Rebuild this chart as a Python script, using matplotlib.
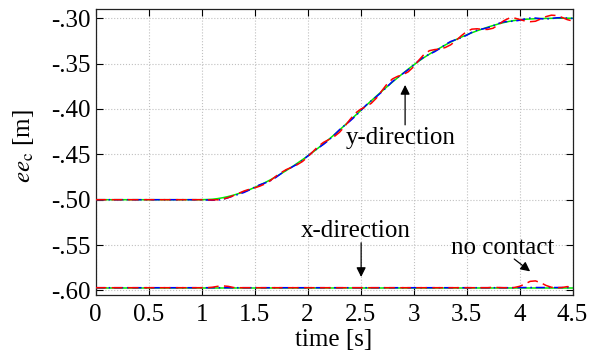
import matplotlib
matplotlib.use("Agg")
import matplotlib.pyplot as plt
import numpy as np

plt.rcParams['font.family'] = ['Liberation Serif', 'DejaVu Serif']
plt.rcParams['mathtext.fontset'] = 'stix'

# time grid, 0.05 s steps
t = np.round(np.arange(0, 4.5001, 0.05), 2)

# y-direction: reference (green), blue, red
y_ref = [-0.5000] * 21 + [
    -0.4998, -0.4995, -0.4988, -0.4978, -0.4965, -0.4950, -0.4932, -0.4912, -0.4890, -0.4865,
    -0.4838, -0.4810, -0.4780, -0.4747, -0.4713, -0.4677, -0.4640, -0.4600, -0.4560, -0.4518,
    -0.4475, -0.4430, -0.4383, -0.4335, -0.4285, -0.4233, -0.4180, -0.4126, -0.4072, -0.4018,
    -0.3964, -0.3910, -0.3857, -0.3805, -0.3754, -0.3704, -0.3655, -0.3607, -0.3560, -0.3515,
    -0.3472, -0.3432, -0.3395, -0.3360, -0.3327, -0.3294, -0.3263, -0.3235, -0.3208, -0.3183,
    -0.3160, -0.3138, -0.3118, -0.3098, -0.3080, -0.3063, -0.3048, -0.3035, -0.3025, -0.3018,
    -0.3012, -0.3008, -0.3005, -0.3003, -0.3002, -0.3001, -0.3000, -0.3000, -0.3000, -0.3000]

y_blue = [-0.5000] * 21 + [
    -0.5003, -0.5006, -0.5005, -0.4996, -0.4978, -0.4958, -0.4940, -0.4920, -0.4893, -0.4862,
    -0.4835, -0.4815, -0.4790, -0.4755, -0.4712, -0.4672, -0.4642, -0.4610, -0.4568, -0.4520,
    -0.4472, -0.4430, -0.4390, -0.4343, -0.4288, -0.4230, -0.4180, -0.4133, -0.4080, -0.4020,
    -0.3960, -0.3910, -0.3864, -0.3812, -0.3755, -0.3698, -0.3650, -0.3610, -0.3567, -0.3518,
    -0.3467, -0.3425, -0.3396, -0.3368, -0.3332, -0.3290, -0.3256, -0.3235, -0.3215, -0.3188,
    -0.3155, -0.3130, -0.3118, -0.3105, -0.3083, -0.3058, -0.3040, -0.3035, -0.3032, -0.3022,
    -0.3008, -0.2998, -0.2998, -0.3005, -0.3008, -0.3003, -0.2995, -0.2993, -0.2998, -0.3002]

y_red = [-0.5000] * 21 + [
    -0.5001, -0.5003, -0.5000, -0.4993, -0.4977, -0.4955, -0.4929, -0.4904, -0.4885, -0.4870,
    -0.4850, -0.4825, -0.4788, -0.4742, -0.4701, -0.4667, -0.4642, -0.4615, -0.4580, -0.4530,
    -0.4470, -0.4412, -0.4368, -0.4337, -0.4305, -0.4258, -0.4192, -0.4116, -0.4047, -0.4003,
    -0.3974, -0.3938, -0.3879, -0.3800, -0.3724, -0.3669, -0.3640, -0.3622, -0.3590, -0.3535,
    -0.3462, -0.3397, -0.3357, -0.3345, -0.3339, -0.3322, -0.3293, -0.3247, -0.3193, -0.3148,
    -0.3120, -0.3116, -0.3123, -0.3123, -0.3110, -0.3073, -0.3028, -0.3000, -0.2997, -0.3013,
    -0.3030, -0.3038, -0.3033, -0.3008, -0.2982, -0.2966, -0.2970, -0.2990, -0.3015, -0.3030]

# x-direction
x_ref = [-0.5970] * 91
x_blue = [-0.5970] * 80 + [-0.5968] * 11
x_red = [-0.5970] * 22 + [
    -0.5965, -0.5955, -0.5950, -0.5955, -0.5968] + [-0.5970] * 47 + [
    -0.5970, -0.5965, -0.5968, -0.5970, -0.5970, -0.5968, -0.5955, -0.5930, -0.5900, -0.5895,
    -0.5915, -0.5945, -0.5965, -0.5970, -0.5968, -0.5958, -0.5962]

yticks = [-0.60, -0.55, -0.50, -0.45, -0.40, -0.35, -0.30]
ytick_labels = ['-.60', '-.55', '-.50', '-.45', '-.40', '-.35', '-.30']
xticks = [0, 0.5, 1, 1.5, 2, 2.5, 3, 3.5, 4, 4.5]
xtick_labels = ['0', '0.5', '1', '1.5', '2', '2.5', '3', '3.5', '4', '4.5']

fig = plt.figure(figsize=(5.89, 3.53), dpi=100)
ax = fig.add_axes([0.1625, 0.1657, 0.8095, 0.8088])

for ys, yb, yr in [(y_ref, y_blue, y_red), (x_ref, x_blue, x_red)]:
    ax.plot(t, ys, color='#00ee00', lw=1.1, zorder=3)
    ax.plot(t, yb, color='#0000ff', lw=1.1, ls=(0, (6, 2.5, 1, 2.5)), zorder=4)
    ax.plot(t, yr, color='#ff0000', lw=1.1, ls=(0, (7, 3.5)), zorder=5)

ax.set_xlim(0, 4.5)
ax.set_ylim(-0.6045, -0.2898)
ax.set_xticks(xticks)
ax.set_xticklabels(xtick_labels)
ax.set_yticks(yticks)
ax.set_yticklabels(ytick_labels)
ax.tick_params(direction='in', length=5, width=0.8, labelsize=18, top=True, right=True, pad=4)
ax.tick_params(axis='x', pad=7)
ax.grid(True, ls=':', color='#c0c0c0', lw=0.8)
for s in ax.spines.values():
    s.set_color('#222222')
    s.set_linewidth(0.9)

ax.set_xlabel('time [s]', fontsize=18, labelpad=2)
ax.set_ylabel(r'$ee_{\mathrm{c}}$ [m]', fontsize=18)
ax.yaxis.set_label_coords(-0.125, 0.52)

arrow = dict(arrowstyle='-|>', color='black', lw=0.9, mutation_scale=14, shrinkA=0, shrinkB=0)
ax.annotate('', xy=(2.92, -0.3735), xytext=(2.92, -0.4175), arrowprops=arrow)
ax.text(2.88, -0.432, 'y-direction', fontsize=18, ha='center', va='center')
ax.annotate('', xy=(2.505, -0.5852), xytext=(2.505, -0.5475), arrowprops=arrow)
ax.text(2.45, -0.535, 'x-direction', fontsize=18, ha='center', va='center')
ax.annotate('', xy=(4.10, -0.579), xytext=(3.95, -0.5654), arrowprops=arrow)
ax.text(3.84, -0.553, 'no contact', fontsize=18, ha='center', va='center')

fig.savefig('out.png', dpi=100)
